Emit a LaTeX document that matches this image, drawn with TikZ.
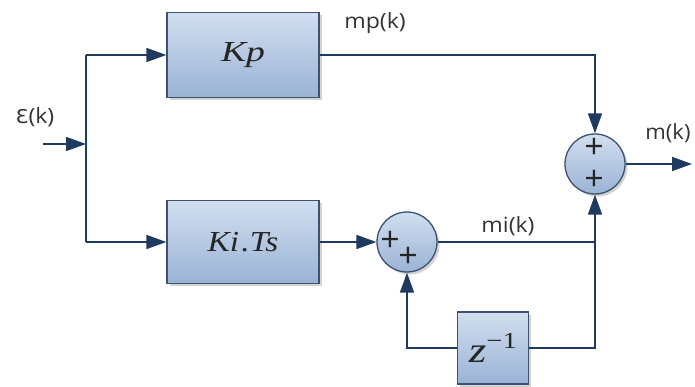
\documentclass[tikz,border=0pt]{standalone}
\usepackage{fontspec}
\setmainfont{Open Sans}
\newfontfamily\seriffont{Liberation Serif}
\newfontfamily\epsfont{DejaVu Sans}
\usetikzlibrary{arrows.meta,shadows,calc}
\definecolor{linec}{HTML}{1E3A5F}
\definecolor{edgec}{HTML}{3C5270}
\definecolor{topc}{HTML}{D2DEF0}
\definecolor{botc}{HTML}{9AB3D5}
\definecolor{txtc}{HTML}{333333}
\newcommand{\hwide}[2][1.3]{\scalebox{#1}[1]{#2}}
\tikzset{
  blk/.style={draw=edgec, line width=1.3pt, top color=topc, bottom color=botc,
    drop shadow={shadow xshift=2.5pt, shadow yshift=-2.5pt, opacity=0.35},
    font=\seriffont\itshape\fontsize{29}{32}\selectfont, text=black!85, inner sep=0pt},
  sumc/.style={circle, draw=edgec, line width=1.3pt, top color=topc, bottom color=botc,
    minimum size=60pt, inner sep=0pt,
    drop shadow={shadow xshift=2.5pt, shadow yshift=-2.5pt, opacity=0.35}},
  plus/.style={font=\fontsize{34}{34}\selectfont, text=black!85, inner sep=0pt},
  lbl/.style={font=\fontsize{21}{24}\selectfont, text=txtc, inner sep=0pt},
  wire/.style={draw=linec, line width=1.6pt},
  arr/.style={wire, -{Triangle[length=20pt,width=14pt]}},
}
\begin{document}
\begin{tikzpicture}[x=1pt,y=-1pt]
\useasboundingbox (0,0) rectangle (695,387);
% blocks
\node[blk, minimum width=152pt, minimum height=85pt] (kp) at (243,55) {\hwide[1.3]{Kp}};
\node[blk, minimum width=152pt, minimum height=83pt] (ki) at (243,242) {\hwide[1.15]{Ki\kern2pt.Ts}};
\node[blk, minimum width=71pt, minimum height=72pt] (zb) at (493,348)
  {\hwide[1.25]{{\fontsize{36}{36}\selectfont z}\raisebox{0.5em}{\upshape\fontsize{23}{23}\selectfont −1}}};
% summing junctions
\node[sumc] (s1) at (407,242) {};
\node[sumc] (s2) at (595,164) {};
\node[plus] (p1a) at (390,241) {+};
\node[plus] (p1b) at (408,257) {+};
\node[plus] (p2a) at (594,148) {+};
\node[plus] (p2b) at (594,180) {+};
% labels
\node[lbl] (eps) at (35,117) {\hwide[1.1]{{\epsfont\fontsize{19}{20}\selectfont Ɛ}(k)}};
\node[lbl] (mp) at (375,23) {\hwide[1.1]{mp(k)}};
\node[lbl] (mi) at (508,226) {\hwide[1.1]{mi(k)}};
\node[lbl] (mk) at (668,133) {\hwide[1.05]{m(k)}};
% coordinates
\coordinate (in) at (43,144);
\coordinate (j) at (86,144);
\coordinate (jt) at (86,55);
\coordinate (jb) at (86,242);
\coordinate (c) at (595,242);
\coordinate (out) at (692,164);
% connectors
\draw[arr] (in) -- (j);
\draw[wire] (jt) -- (jb);
\draw[arr] (jt) -- (kp.west);
\draw[arr] (jb) -- (ki.west);
\draw[arr] (kp.east) -| (s2.north);
\draw[arr] (ki.east) -- (s1.west);
\draw[wire] (s1.east) -- (c);
\draw[arr] (c) -- (s2.south);
\draw[wire] (c) |- (zb.east);
\draw[arr] (zb.west) -| (s1.south);
\draw[arr] (s2.east) -- (out);
\end{tikzpicture}
\end{document}
